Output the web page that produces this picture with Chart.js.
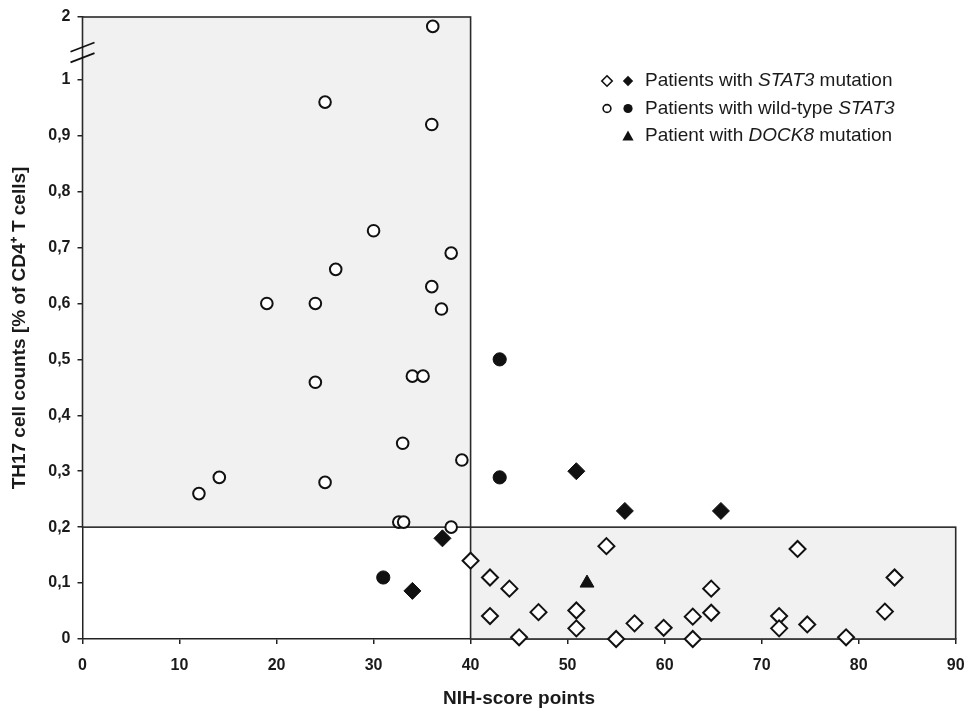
<!DOCTYPE html>
<html>
<head>
<meta charset="utf-8">
<script src="https://cdn.jsdelivr.net/npm/chart.js@4.4.1/dist/chart.umd.min.js"></script>
<style>
  html, body { margin: 0; padding: 0; background: #ffffff; }
  canvas { display: block; }
</style>
</head>
<body>
<canvas id="chart" width="967" height="710"></canvas>
<script>
// ---------------- DATA ----------------
// x = NIH-score points, y = TH17 cell counts [% of CD4+ T cells]
const stat3MutOpenX = [40, 42, 42, 44, 45, 47, 50.9, 50.9, 54, 55, 56.9, 59.9, 62.9, 62.9, 64.8, 64.8, 71.8, 71.8, 73.7, 74.7, 78.7, 82.7, 83.7];
const stat3MutOpenY = [0.14, 0.11, 0.041, 0.09, 0.003, 0.048, 0.051, 0.019, 0.166, 0.0, 0.028, 0.02, 0.04, 0.0, 0.09, 0.047, 0.041, 0.019, 0.161, 0.026, 0.003, 0.049, 0.11];

const stat3MutFilledX = [37.1, 34.0, 50.9, 55.9, 65.8];
const stat3MutFilledY = [0.18, 0.086, 0.30, 0.229, 0.229];

const wildTypeOpenX = [36.1, 25.0, 36.0, 30.0, 38.0, 26.1, 36.0, 19.0, 24.0, 37.0, 24.0, 34.0, 35.1, 33.0, 39.1, 14.1, 12.0, 25.0, 32.6, 33.1, 38.0];
const wildTypeOpenY = [1.85, 0.96, 0.92, 0.73, 0.69, 0.661, 0.63, 0.60, 0.60, 0.59, 0.459, 0.47, 0.47, 0.35, 0.32, 0.289, 0.26, 0.28, 0.209, 0.209, 0.20];

const wildTypeFilledX = [43.0, 43.0, 31.0];
const wildTypeFilledY = [0.50, 0.289, 0.11];

const dock8X = [52.0];
const dock8Y = [0.10];

// axis ticks
const xTickValues = [0, 10, 20, 30, 40, 50, 60, 70, 80, 90];
const yTickValues = [0, 0.1, 0.2, 0.3, 0.4, 0.5, 0.6, 0.7, 0.8, 0.9, 1];
const yTickLabels = ['0', '0,1', '0,2', '0,3', '0,4', '0,5', '0,6', '0,7', '0,8', '0,9', '1'];
const yBreakValue = 1;      // axis is broken above 1
const yTopValue = 2;        // top of the axis
const yTopLabel = '2';
const yBreakRatio = 0.1122; // compression of the 1..2 segment

// threshold regions
const cutX = 40;
const cutY = 0.2;
const xMin = 0, xMax = 90;

// legend entries
const legendRows = [
  { pre: 'Patients with ', it: 'STAT3', post: ' mutation', markers: ['openDiamond', 'filledDiamond'] },
  { pre: 'Patients with wild-type ', it: 'STAT3', post: '', markers: ['openCircle', 'filledCircle'] },
  { pre: 'Patient with ', it: 'DOCK8', post: ' mutation', markers: [null, 'filledTriangle'] }
];

// ---------------- helpers ----------------
function toDisplayY(v) {
  return v <= yBreakValue ? v : yBreakValue + (v - yBreakValue) / (yTopValue - yBreakValue) * yBreakRatio;
}
const yDisplayMax = toDisplayY(yTopValue);
function pts(xs, ys) { return xs.map((x, i) => ({ x: x, y: toDisplayY(ys[i]) })); }

const FONT = "'Liberation Sans', Arial, Helvetica, sans-serif";
const INK = '#1a1a1a';

const regionsPlugin = {
  id: 'regions',
  beforeDatasetsDraw(chart) {
    const ctx = chart.ctx, xs = chart.scales.x, ys = chart.scales.y;
    const x0 = xs.getPixelForValue(xMin), xc = xs.getPixelForValue(cutX), x1 = xs.getPixelForValue(xMax);
    const y0 = ys.getPixelForValue(0), yc = ys.getPixelForValue(cutY), yt = ys.getPixelForValue(yDisplayMax);
    ctx.save();
    ctx.fillStyle = '#f1f1f1';
    ctx.fillRect(x0, yt, xc - x0, yc - yt);
    ctx.fillRect(xc, yc, x1 - xc, y0 - yc);
    ctx.strokeStyle = '#2a2a2a';
    ctx.lineWidth = 1.6;
    ctx.strokeRect(x0, yt, xc - x0, yc - yt);
    ctx.strokeRect(xc, yc, x1 - xc, y0 - yc);
    // axis break marks
    const ax = xs.getPixelForValue(xMin);
    const yb1 = ys.getPixelForValue(yBreakValue + yBreakRatio * 0.52);
    const yb2 = ys.getPixelForValue(yBreakValue + yBreakRatio * 0.35);
    ctx.strokeStyle = '#111';
    ctx.lineWidth = 1.8;
    [yb1, yb2].forEach(yy => {
      ctx.beginPath();
      ctx.moveTo(ax - 12, yy + 4.6);
      ctx.lineTo(ax + 12, yy - 4.6);
      ctx.stroke();
    });
    ctx.restore();
  }
};

function drawMarker(ctx, type, x, y) {
  ctx.save();
  ctx.lineWidth = 1.6;
  ctx.strokeStyle = '#111';
  ctx.fillStyle = '#111';
  ctx.beginPath();
  if (type === 'openDiamond' || type === 'filledDiamond') {
    const r = 5.2;
    ctx.moveTo(x, y - r); ctx.lineTo(x + r, y); ctx.lineTo(x, y + r); ctx.lineTo(x - r, y); ctx.closePath();
  } else if (type === 'openCircle' || type === 'filledCircle') {
    ctx.arc(x, y, type === 'openCircle' ? 3.9 : 4.6, 0, Math.PI * 2);
  } else if (type === 'filledTriangle') {
    ctx.moveTo(x, y - 5.5); ctx.lineTo(x + 5.6, y + 4.5); ctx.lineTo(x - 5.6, y + 4.5); ctx.closePath();
  }
  if (type.startsWith('open')) { ctx.fillStyle = '#fff'; ctx.fill(); ctx.stroke(); }
  else ctx.fill();
  ctx.restore();
}

const legendPlugin = {
  id: 'customLegend',
  afterDraw(chart) {
    const ctx = chart.ctx;
    const textX = 645, mx1 = 607, mx2 = 628;
    const rowY = [81, 108.5, 136];
    ctx.save();
    ctx.textBaseline = 'middle';
    ctx.fillStyle = INK;
    legendRows.forEach((row, i) => {
      const y = rowY[i];
      if (row.markers[0]) drawMarker(ctx, row.markers[0], mx1, y);
      if (row.markers[1]) drawMarker(ctx, row.markers[1], mx2, y);
      let x = textX;
      ctx.fillStyle = INK;
      ctx.font = '19px ' + FONT;
      ctx.fillText(row.pre, x, y); x += ctx.measureText(row.pre).width;
      ctx.font = 'italic 19px ' + FONT;
      ctx.fillText(row.it, x, y); x += ctx.measureText(row.it).width;
      if (row.post) { ctx.font = '19px ' + FONT; ctx.fillText(row.post, x, y); }
    });
    ctx.restore();
  }
};

const openStyle = { backgroundColor: '#ffffff', borderColor: '#111111', borderWidth: 2 };

new Chart(document.getElementById('chart'), {
  type: 'scatter',
  data: {
    datasets: [
      { label: 'Patients with STAT3 mutation (open)', data: pts(stat3MutOpenX, stat3MutOpenY), pointStyle: 'rectRot', pointRadius: 8, ...openStyle, clip: false },
      { label: 'Patients with STAT3 mutation (filled)', data: pts(stat3MutFilledX, stat3MutFilledY), pointStyle: 'rectRot', pointRadius: 8.5, backgroundColor: '#111', borderColor: '#111', borderWidth: 1, clip: false },
      { label: 'Patients with wild-type STAT3 (open)', data: pts(wildTypeOpenX, wildTypeOpenY), pointStyle: 'circle', pointRadius: 5.8, ...openStyle, clip: false },
      { label: 'Patients with wild-type STAT3 (filled)', data: pts(wildTypeFilledX, wildTypeFilledY), pointStyle: 'circle', pointRadius: 6.6, backgroundColor: '#111', borderColor: '#111', borderWidth: 1, clip: false },
      { label: 'Patient with DOCK8 mutation', data: pts(dock8X, dock8Y), pointStyle: 'triangle', pointRadius: 8, backgroundColor: '#111', borderColor: '#111', borderWidth: 1, clip: false }
    ]
  },
  options: {
    responsive: false,
    animation: false,
    devicePixelRatio: 1,
    layout: { padding: { top: 17, right: 11.3, bottom: 0, left: 5 } },
    plugins: { legend: { display: false }, tooltip: { enabled: false } },
    scales: {
      x: {
        type: 'linear',
        min: xMin, max: xMax,
        afterBuildTicks(scale) { scale.ticks = xTickValues.map(v => ({ value: v })); },
        afterFit(scale) { scale.height = 71; scale.paddingRight = 0; scale.paddingLeft = 0; },
        ticks: { color: INK, font: { family: FONT, size: 16, weight: 'bold' }, padding: 12, maxRotation: 0,
                 callback: v => String(v) },
        grid: { display: true, drawOnChartArea: false, drawTicks: true, tickLength: 5, color: '#222', lineWidth: 1.5 },
        border: { display: true, color: '#222', width: 1.5 },
        title: { display: true, text: 'NIH-score points', color: INK, font: { family: FONT, size: 19, weight: 'bold' }, padding: { top: 0, bottom: 0 } }
      },
      y: {
        type: 'linear',
        min: 0, max: yDisplayMax,
        afterBuildTicks(scale) { scale.ticks = yTickValues.concat([yDisplayMax]).map(v => ({ value: v })); },
        afterFit(scale) { scale.width = 77.5; scale.paddingTop = 0; scale.paddingBottom = 0; },
        ticks: { color: INK, font: { family: FONT, size: 16, weight: 'bold' }, padding: 7,
                 callback: (v) => {
                   if (v > yBreakValue + 1e-6) return yTopLabel;
                   const idx = yTickValues.findIndex(t => Math.abs(t - v) < 1e-6);
                   return idx >= 0 ? yTickLabels[idx] : '';
                 } },
        grid: { display: true, drawOnChartArea: false, drawTicks: true, tickLength: 5, color: '#222', lineWidth: 1.5 },
        border: { display: true, color: '#222', width: 1.5 },
        title: { display: true, text: 'TH17 cell counts [% of CD4\u207A T cells]', color: INK, font: { family: FONT, size: 19, weight: 'bold' }, padding: { top: 3, bottom: 0 } }
      }
    }
  },
  plugins: [regionsPlugin, legendPlugin]
});
</script>
</body>
</html>
